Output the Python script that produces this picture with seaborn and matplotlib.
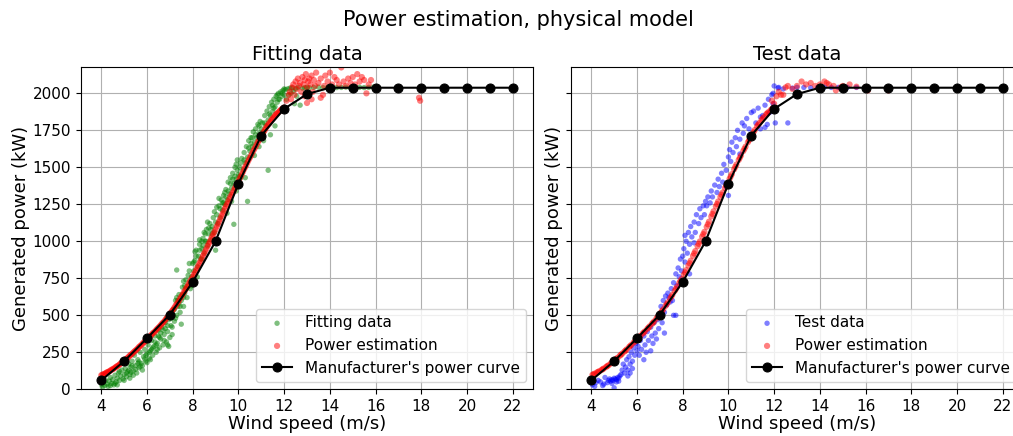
import matplotlib
matplotlib.use("Agg")
import matplotlib.pyplot as plt
import seaborn as sns

# ---------------- data ----------------
wind_ref = [4, 5, 6, 7, 8, 9, 10, 11, 12, 13, 14, 15, 16, 17, 18, 19, 20, 21, 22]
power_ref = [60, 190, 345, 505, 725, 1000, 1390, 1715, 1895, 1995, 2038, 2038,
             2038, 2038, 2038, 2038, 2038, 2038, 2038]

fit_x = [4.02, 4.05, 4.1, 4.15, 4.2, 4.25, 4.3, 4.35, 4.4, 4.45, 4.5, 4.55, 4.6, 4.65, 4.7, 4.75, 4.8, 4.85, 4.9, 4.95, 5.0,
         5.05, 5.1, 5.15, 5.2, 5.25, 5.3, 5.35, 5.4, 5.45, 5.5, 5.55, 5.6, 5.65, 5.7, 5.75, 5.8, 5.85, 5.9, 5.95, 6.0, 5.5, 5.7, 5.9, 5.3,
         6.05, 6.1, 6.15, 6.2, 6.25, 6.3, 6.35, 6.4, 6.45, 6.5, 6.55, 6.6, 6.65, 6.7, 6.75, 6.8, 6.85, 6.9, 6.95, 7.0, 6.2, 6.4, 6.6, 6.8, 6.9,
         7.05, 7.1, 7.15, 7.2, 7.25, 7.3, 7.35, 7.4, 7.45, 7.5, 7.55, 7.6, 7.65, 7.7, 7.75, 7.8, 7.85, 7.9, 7.95, 8.0, 7.2, 7.4, 7.6, 7.5, 7.1, 7.7, 7.9, 7.3,
         8.05, 8.1, 8.15, 8.2, 8.25, 8.3, 8.35, 8.4, 8.45, 8.5, 8.55, 8.6, 8.65, 8.7, 8.75, 8.8, 8.85, 8.9, 8.95, 9.0, 8.2, 8.4, 8.6, 8.8, 8.3, 8.5, 9.0,
         9.05, 9.1, 9.15, 9.2, 9.25, 9.3, 9.35, 9.4, 9.45, 9.5, 9.55, 9.6, 9.65, 9.7, 9.75, 9.8, 9.85, 9.9, 9.95, 10.0, 9.3, 9.5, 9.7, 9.9, 9.8,
         10.05, 10.1, 10.15, 10.2, 10.25, 10.3, 10.35, 10.4, 10.45, 10.5, 10.55, 10.6, 10.65, 10.7, 10.75, 10.8, 10.85, 10.9, 10.95, 11.0, 10.4, 10.3, 10.7, 10.9,
         11.05, 11.1, 11.15, 11.2, 11.25, 11.3, 11.35, 11.4, 11.45, 11.5, 11.55, 11.6, 11.65, 11.7, 11.75, 11.8, 11.85, 11.9, 11.95, 12.0, 11.3, 11.1, 11.4, 11.6,
         12.05, 12.1, 12.15, 12.2, 12.25, 12.3, 12.35, 12.4, 12.5, 12.6, 12.7, 12.8, 12.9, 13.0, 12.45, 12.55,
         13.1, 13.3, 13.5, 13.7, 13.9, 14.1, 14.3, 14.5, 14.7, 14.9, 15.1, 15.3, 15.5, 15.7, 15.9]
fit_y = [30, 15, 45, 25, 60, 35, 20, 55, 80, 40, 65, 30, 95, 50, 75, 110, 60, 90, 130, 70, 100,
         140, 85, 120, 170, 100, 150, 190, 125, 230, 160, 110, 200, 145, 250, 175, 130, 220, 270, 190, 240, 135, 155, 205, 115,
         300, 210, 260, 330, 230, 290, 360, 250, 310, 400, 280, 340, 420, 300, 370, 450, 320, 390, 470, 350, 270, 300, 380, 410, 300,
         480, 420, 540, 460, 600, 500, 560, 640, 520, 600, 690, 560, 650, 740, 620, 700, 800, 680, 760, 850, 540, 580, 620, 440, 370, 680, 720, 806,
         800, 870, 940, 830, 900, 980, 880, 950, 1020, 920, 1000, 1080, 970, 1050, 1120, 1010, 1100, 1160, 1060, 1130, 760, 880, 1000, 1080, 1010, 1060, 940,
         1180, 1120, 1240, 1160, 1280, 1210, 1310, 1250, 1350, 1280, 1400, 1320, 1430, 1360, 1460, 1390, 1500, 1420, 1550, 1450, 1260, 1190, 1270, 1340, 1115,
         1500, 1430, 1560, 1480, 1600, 1530, 1640, 1570, 1680, 1610, 1700, 1640, 1740, 1670, 1760, 1700, 1790, 1730, 1810, 1760, 1270, 1430, 1580, 1640,
         1800, 1740, 1850, 1780, 1880, 1820, 1910, 1850, 1940, 1880, 1960, 1910, 1980, 1940, 2000, 1960, 2010, 1980, 2020, 1990, 1480, 1680, 1720, 1780,
         2025, 1960, 2030, 1990, 2035, 2000, 2038, 2015, 2030, 2040, 1920, 2035, 2038, 2040, 1930, 1980,
         2038, 2040, 2042, 2038, 2040, 2041, 2039, 2040, 2042, 2038, 2040, 2041, 2039, 2040, 2042]

fit_x_more = [4.6, 4.8, 5.0, 5.2, 5.4, 5.6, 5.8, 6.0, 5.1, 5.35, 5.65, 5.95, 4.4, 4.7, 5.25,
              6.1, 6.25, 6.45, 6.55, 6.7, 6.75, 6.9, 6.95, 6.15, 6.35, 6.5, 6.85,
              7.05, 7.15, 7.3, 7.45, 7.55, 7.65, 7.8, 7.95, 7.25, 7.6, 7.85, 7.35,
              8.05, 8.15, 8.3, 8.45, 8.55, 8.7, 8.85, 8.95, 8.1, 8.65, 8.4,
              9.05, 9.2, 9.35, 9.45, 9.55, 9.65, 9.75, 9.85, 9.95, 9.15, 9.4, 9.9,
              10.1, 10.25, 10.45, 10.6, 10.75, 10.9, 10.05, 10.55,
              11.15, 11.35, 11.55, 11.75, 11.9, 12.0, 11.5, 11.7]
fit_y_more = [40, 120, 60, 130, 95, 175, 160, 180, 110, 160, 185, 230, 25, 30, 75,
              250, 280, 270, 350, 400, 330, 430, 290, 200, 320, 360, 480,
              430, 500, 620, 560, 640, 700, 770, 700, 480, 730, 850, 600,
              860, 900, 940, 970, 1050, 1090, 1050, 1200, 930, 1130, 1000,
              1230, 1220, 1260, 1300, 1340, 1390, 1420, 1440, 1480, 1290, 1330, 1520,
              1530, 1550, 1630, 1700, 1720, 1780, 1440, 1660,
              1800, 1860, 1900, 1960, 2000, 2030, 1920, 1990]

est_fit_x = [4.0, 4.1, 4.2, 4.3, 4.4, 4.5, 4.6, 4.7, 4.8, 4.9, 5.0, 5.1, 5.2, 5.3, 5.4, 5.5, 5.6, 5.7, 5.8, 5.9,
             6.0, 6.1, 6.2, 6.3, 6.4, 6.5, 6.6, 6.7, 6.8, 6.9, 7.0, 7.1, 7.2, 7.3, 7.4, 7.5, 7.6, 7.7, 7.8, 7.9,
             8.0, 8.1, 8.2, 8.3, 8.4, 8.5, 8.6, 8.7, 8.8, 8.9, 9.0, 9.1, 9.2, 9.3, 9.4, 9.5, 9.6, 9.7, 9.8, 9.9,
             10.0, 10.1, 10.2, 10.3, 10.4, 10.5, 10.6, 10.7, 10.8, 10.9, 11.0, 11.1, 11.2, 11.3, 11.4, 11.5, 11.6, 11.7, 11.8, 11.9, 12.0,
             12.1, 12.2, 12.25, 12.3, 12.35, 12.4, 12.45, 12.5, 12.55, 12.6, 12.65, 12.7, 12.75, 12.8, 12.85, 12.9, 12.95, 13.0,
             13.05, 13.1, 13.15, 13.2, 13.25, 13.3, 13.35, 13.4, 13.5, 13.6, 13.7, 13.75, 13.8, 13.9, 14.0, 14.1, 14.2, 14.3,
             14.4, 14.5, 14.6, 14.7, 14.8, 14.9, 15.0, 15.1, 15.2, 15.3, 15.4, 15.5, 15.6, 15.7, 15.8, 16.0, 17.0, 17.9, 17.95,
             13.2, 12.9, 13.6, 13.0]
est_fit_y = [95, 102, 110, 118, 127, 136, 146, 157, 168, 180, 193, 206, 220, 234, 248, 262, 277, 292, 307, 322,
             338, 353, 369, 384, 400, 416, 433, 450, 468, 488, 508, 530, 552, 576, 600, 626, 652, 678, 705, 732,
             760, 790, 820, 852, 885, 918, 950, 983, 1015, 1048, 1080, 1115, 1150, 1185, 1220, 1252, 1285, 1315, 1345, 1375,
             1405, 1438, 1470, 1503, 1535, 1565, 1595, 1625, 1655, 1683, 1710, 1738, 1765, 1788, 1810, 1830, 1850, 1865, 1880, 1893, 1905,
             1950, 1990, 2010, 1960, 2040, 2060, 1990, 2080, 2030, 2100, 2050, 2070, 2010, 2110, 2060, 2090, 2130, 2040,
             2080, 2100, 2060, 2120, 2010, 2090, 2050, 2140, 2070, 2100, 1990, 2050, 2120, 2080, 2140, 2060, 2110, 2090,
             2060, 2175, 2080, 2050, 2100, 2070, 2110, 2060, 2130, 2080, 2110, 2090, 2000, 2060, 2090, 2040, 2040, 1970, 1950,
             1960, 1980, 1970, 1935]

est_fit_x_more = [4.05, 4.15, 4.25, 4.35, 4.45, 4.55, 4.65, 4.75, 4.85, 4.95, 5.05, 5.15, 5.25, 5.35, 5.45, 5.55, 5.65, 5.75, 5.85, 5.95,
                  6.05, 6.15, 6.25, 6.35, 6.45, 6.55, 6.65, 6.75, 6.85, 6.95, 7.05, 7.15, 7.25, 7.35, 7.45, 7.55, 7.65, 7.75, 7.85, 7.95,
                  8.05, 8.15, 8.25, 8.35, 8.45, 8.55, 8.65, 8.75, 8.85, 8.95, 9.05, 9.15, 9.25, 9.35, 9.45, 9.55, 9.65, 9.75, 9.85, 9.95,
                  10.05, 10.15, 10.25, 10.35, 10.45, 10.55, 10.65, 10.75, 10.85, 10.95, 11.05, 11.15, 11.25, 11.35, 11.45, 11.55, 11.65, 11.75, 11.85, 11.95]
est_fit_y_more = [99, 105, 115, 121, 132, 140, 152, 161, 175, 186, 200, 212, 228, 240, 256, 269, 286, 299, 316, 329,
                  347, 360, 378, 391, 409, 424, 443, 458, 479, 497, 520, 540, 565, 587, 614, 638, 666, 691, 720, 745,
                  776, 804, 837, 868, 903, 933, 968, 998, 1033, 1063, 1099, 1132, 1169, 1202, 1237, 1268, 1301, 1329, 1361, 1389,
                  1423, 1453, 1488, 1518, 1551, 1579, 1611, 1639, 1670, 1696, 1725, 1751, 1778, 1798, 1821, 1839, 1859, 1872, 1888, 1898]

test_x = [4.05, 4.15, 4.3, 4.4, 4.5, 4.6, 4.7, 4.75, 4.8, 4.85, 4.9, 4.95, 5.0, 5.0, 4.55, 4.9, 4.2,
          5.05, 5.1, 5.15, 5.2, 5.25, 5.1, 5.3, 5.2,
          5.35, 5.4, 5.45, 5.5, 5.55, 5.6, 5.65, 5.7, 5.75, 5.8, 5.85, 5.9, 5.95, 6.0, 5.7, 5.6, 5.8,
          6.05, 6.1, 6.15, 6.2, 6.3, 6.35, 6.4, 6.45, 6.5, 6.6, 6.65, 6.7, 6.75, 6.8, 6.9, 6.95, 7.0, 6.3, 6.6, 6.85,
          7.05, 7.1, 7.15, 7.2, 7.25, 7.3, 7.35, 7.4, 7.5, 7.55, 7.6, 7.7, 7.75, 7.8, 7.85, 7.9, 7.95, 8.0, 7.2, 7.45, 7.6, 7.7,
          8.05, 8.1, 8.15, 8.2, 8.25, 8.3, 8.35, 8.4, 8.5, 8.55, 8.6, 8.7, 8.75, 8.8, 8.9, 8.95, 9.0, 8.3, 8.1, 8.5,
          9.05, 9.1, 9.2, 9.25, 9.3, 9.4, 9.5, 9.55, 9.6, 9.7, 9.75, 9.8, 9.9, 10.0, 9.9, 10.0,
          10.05, 10.1, 10.15, 10.2, 10.3, 10.35, 10.4, 10.5, 10.6, 10.65, 10.7, 10.8, 10.9, 11.0, 10.5, 11.0,
          11.1, 11.2, 11.3, 11.4, 11.5, 11.6, 11.7, 11.75, 11.8, 11.9, 11.95, 12.0, 11.6, 11.4, 12.05, 12.6, 11.95, 12.17,
          12.2, 12.4, 12.8, 13.0, 13.3, 13.6, 13.9, 14.2, 14.5, 14.8, 15.2, 15.6]
test_y = [30, 20, 60, 50, 25, 80, 45, 60, 70, 55, 65, 60, 75, 10, 35, 40, 45,
          70, 65, 80, 75, 90, 50, 100, 55,
          130, 170, 110, 150, 200, 130, 220, 170, 250, 190, 280, 230, 310, 260, 110, 90, 140,
          290, 230, 330, 270, 360, 300, 250, 390, 330, 420, 360, 310, 450, 380, 470, 410, 500, 200, 260, 340,
          560, 450, 600, 520, 630, 570, 650, 620, 680, 600, 720, 780, 700, 820, 760, 880, 800, 900, 380, 590, 500, 500,
          950, 860, 1000, 920, 1060, 980, 1100, 1030, 1130, 1060, 1180, 1120, 1220, 1160, 1240, 1180, 1270, 780, 1040, 990,
          1240, 1300, 1260, 1340, 1300, 1380, 1330, 1420, 1370, 1460, 1400, 1520, 1480, 1570, 1370, 1310,
          1620, 1540, 1670, 1600, 1700, 1640, 1750, 1690, 1800, 1730, 1780, 1830, 1760, 1870, 1590, 1710,
          1880, 1800, 1900, 1760, 1850, 1920, 1790, 1960, 1870, 1990, 2000, 2050, 1770, 1840, 1800, 1800, 1930, 2036,
          2040, 2030, 2035, 2040, 2040, 2038, 2040, 2042, 2040, 2040, 2041, 2040]

est_test_x = [4.05, 4.15, 4.25, 4.35, 4.45, 4.55, 4.65, 4.75, 4.85, 4.95, 5.05, 5.15, 5.25, 5.35, 5.45, 5.55, 5.65, 5.75, 5.85, 5.95,
              6.05, 6.15, 6.25, 6.35, 6.45, 6.55, 6.65, 6.75, 6.85, 6.95, 7.05, 7.15, 7.25, 7.35, 7.45, 7.55, 7.65, 7.75, 7.85, 7.95,
              8.05, 8.15, 8.25, 8.35, 8.45, 8.55, 8.65, 8.75, 8.85, 8.95, 9.05, 9.15, 9.25, 9.35, 9.45, 9.55, 9.65, 9.75, 9.85, 9.95,
              10.05, 10.15, 10.25, 10.35, 10.45, 10.55, 10.65, 10.75, 10.85, 10.95, 11.05, 11.15, 11.25, 11.35, 11.45, 11.55, 11.65, 11.75, 11.85, 11.95,
              12.1, 12.2, 12.3, 12.5, 12.6, 12.8, 13.0, 13.2, 13.4, 13.6, 13.8, 14.0, 14.2, 14.3, 14.4, 14.6, 14.9, 15.0,
              15.3, 15.6, 16.0, 16.1, 17.0, 14.7, 12.0, 11.9, 12.4]
est_test_y = [98, 106, 114, 122, 131, 141, 151, 162, 174, 186, 199, 213, 227, 241, 255, 270, 285, 300, 315, 330,
              346, 361, 377, 392, 408, 425, 442, 459, 478, 498, 519, 541, 564, 588, 613, 639, 665, 692, 719, 746,
              775, 805, 836, 869, 902, 934, 967, 999, 1032, 1064, 1098, 1133, 1168, 1203, 1236, 1269, 1300, 1330, 1360, 1390,
              1422, 1454, 1487, 1519, 1550, 1580, 1610, 1640, 1669, 1697, 1724, 1752, 1777, 1799, 1820, 1840, 1858, 1873, 1887, 1899,
              1980, 2010, 1990, 2040, 2050, 2030, 2050, 2080, 2060, 2070, 2050, 2060, 2080, 2070, 2060, 2050, 2040, 2050,
              2060, 2045, 2040, 2020, 2020, 2020, 1930, 1950, 1990]

est_test_x_more = [4.1, 4.3, 4.5, 4.7, 4.9, 5.1, 5.3, 5.5, 5.7, 5.9, 6.1, 6.3, 6.5, 6.7, 6.9, 7.1, 7.3, 7.5, 7.7, 7.9,
                   8.1, 8.3, 8.5, 8.7, 8.9, 9.1, 9.3, 9.5, 9.7, 9.9, 10.1, 10.3, 10.5, 10.7, 10.9, 11.1, 11.3, 11.5, 11.7, 11.9]
est_test_y_more = [102, 118, 136, 157, 180, 206, 234, 262, 292, 322, 353, 384, 416, 450, 488, 530, 576, 626, 678, 732,
                   790, 852, 918, 983, 1048, 1115, 1185, 1252, 1315, 1375, 1438, 1503, 1565, 1625, 1683, 1738, 1788, 1830, 1865, 1893]

# ---------------- figure ----------------
W, H = 1013, 436
fig = plt.figure(figsize=(W / 100, H / 100), dpi=100)

ax_bottom = (H - 389.3) / H
ax_height = (389.3 - 67.0) / H
ax_width = 452.6 / W
ax1 = fig.add_axes([80.7 / W, ax_bottom, ax_width, ax_height])
ax2 = fig.add_axes([570.7 / W, ax_bottom, ax_width, ax_height])
ax2.sharey(ax1)

panels = [
    (ax1, fit_x + fit_x_more, fit_y + fit_y_more, "green", "Fitting data",
     est_fit_x + est_fit_x_more, est_fit_y + est_fit_y_more),
    (ax2, test_x, test_y, "blue", "Test data",
     est_test_x + est_test_x_more, est_test_y + est_test_y_more),
]

for ax, dx, dy, col, name, ex, ey in panels:
    ax.grid(True, color="#b0b0b0", linewidth=0.8)
    ax.set_axisbelow(True)
    sns.scatterplot(x=dx, y=dy, ax=ax, color=col, alpha=0.5, s=15,
                    linewidth=0, edgecolor="none", label=name)
    sns.scatterplot(x=ex, y=ey, ax=ax, color="red", alpha=0.5, s=20,
                    linewidth=0, edgecolor="none", label="Power estimation")
    sns.lineplot(x=wind_ref, y=power_ref, ax=ax, color="black", marker="o",
                 markersize=6.5, markeredgecolor="black", linewidth=1.5,
                 label="Manufacturer's power curve")
    ax.set_xlim(3.1, 22.9)
    ax.set_ylim(0, 2178)
    ax.set_xticks(list(range(4, 23, 2)))
    ax.set_yticks(list(range(0, 2001, 250)))
    ax.tick_params(labelsize=11)
    ax.set_xlabel("Wind speed (m/s)", fontsize=13, labelpad=1)
    ax.set_ylabel("Generated power (kW)", fontsize=13, labelpad=2)
    ax.set_title(name, fontsize=14, pad=5)
    ax.legend(loc="lower right", fontsize=11)

ax2.tick_params(labelleft=False)

fig.text(518 / W, 1 - 26 / H, "Power estimation, physical model",
         ha="center", va="baseline", fontsize=15)

fig.savefig("out.png", dpi=100)
